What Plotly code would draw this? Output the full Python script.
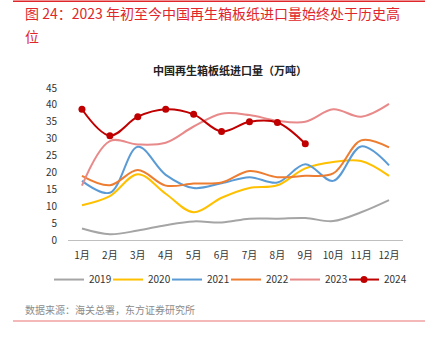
import plotly.graph_objects as go

months = ["1月", "2月", "3月", "4月", "5月", "6月", "7月", "8月", "9月", "10月", "11月", "12月"]

y2019 = [3.4, 1.7, 2.8, 4.4, 5.5, 5.2, 6.3, 6.3, 6.5, 5.6, 8.2, 11.8]
y2020 = [10.3, 13.0, 19.5, 13.7, 8.2, 12.5, 15.4, 16.2, 21.2, 23.1, 23.4, 19.0]
y2021 = [17.5, 14.0, 27.6, 19.3, 15.4, 16.8, 18.6, 17.0, 22.4, 17.5, 27.7, 22.1]
y2022 = [19.0, 16.2, 20.7, 16.1, 16.7, 17.0, 20.4, 18.6, 19.0, 19.7, 29.5, 27.4]
y2023 = [16.1, 29.3, 28.3, 28.8, 33.6, 37.4, 37.0, 35.3, 35.0, 38.7, 36.5, 40.3]
y2024 = [38.7, 30.9, 36.5, 38.7, 37.2, 32.1, 35.0, 34.8, 28.5]

series = [
    ("2019", y2019, "#A5A5A5"),
    ("2020", y2020, "#FFC000"),
    ("2021", y2021, "#5B9BD5"),
    ("2022", y2022, "#ED7D31"),
    ("2023", y2023, "#E8898A"),
    ("2024", y2024, "#C00000"),
]

FONT = "Noto Sans CJK SC"
W, H = 434, 344
PL, PR, PT, PB = 68, 403, 87.7, 240.3  # plot-area pixel box


def px(x):
    return (x - PL) / (PR - PL)


def py(y):
    return (PB - y) / (PB - PT)


# one single-entry legend per year, laid out in a row under the axis
LEGEND_TEXT_X = [89, 148, 207, 266, 325, 384]
LEGEND_Y = 280

fig = go.Figure()
legend_layout = {}
for i, (name, vals, color) in enumerate(series):
    key = "legend" if i == 0 else f"legend{i + 1}"
    is_current = name == "2024"
    fig.add_trace(go.Scatter(
        x=months[:len(vals)], y=vals, name=name,
        mode="lines+markers" if is_current else "lines",
        line=dict(color=color, width=2, shape="spline", smoothing=1.0),
        marker=dict(color=color, size=7),
        legend=key,
    ))
    legend_layout[key] = dict(
        x=px(LEGEND_TEXT_X[i] - 40), xanchor="left",
        y=py(LEGEND_Y), yanchor="middle",
        font=dict(size=10, color="#333333", family=FONT), itemwidth=30,
        bgcolor="rgba(0,0,0,0)", borderwidth=0,
    )

fig.update_layout(
    width=W, height=H,
    margin=dict(l=PL, r=W - PR, t=PT, b=H - PB, autoexpand=False),
    paper_bgcolor="white", plot_bgcolor="white",
    font=dict(family=FONT, size=10, color="#333333"),
    showlegend=True,
    xaxis=dict(
        type="category", categoryorder="array", categoryarray=months,
        range=[-0.5, 11.5], showgrid=False, showline=True, linecolor="#BFBFBF",
        linewidth=1, ticks="", ticklabelstandoff=6, tickfont=dict(size=10, color="#333333"),
        zeroline=False,
    ),
    yaxis=dict(
        range=[0, 45], dtick=5, showgrid=False, showline=False, zeroline=False,
        ticks="", ticklabelstandoff=10, tickfont=dict(size=10, color="#333333"),
    ),
    **legend_layout,
)

annotations = [
    dict(text="图 24：2023 年初至今中国再生箱板纸进口量始终处于历史高", x=px(23), y=py(12),
         xanchor="left", yanchor="middle", font=dict(size=14, color="#E0262B", family=FONT)),
    dict(text="位", x=px(23), y=py(35),
         xanchor="left", yanchor="middle", font=dict(size=14, color="#E0262B", family=FONT)),
    dict(text="<b>中国再生箱板纸进口量（万吨）</b>", x=px(230), y=py(70),
         xanchor="center", yanchor="middle", font=dict(size=11, color="#222222", family=FONT)),
    dict(text="数据来源：海关总署，东方证券研究所", x=px(23), y=py(310),
         xanchor="left", yanchor="middle", font=dict(size=10, color="#8C8C8C", family=FONT)),
]
for a in annotations:
    a.update(xref="paper", yref="paper", showarrow=False)
fig.update_layout(annotations=annotations)

fig.update_layout(shapes=[
    dict(type="line", xref="paper", yref="paper", x0=px(13), x1=px(425), y0=py(0.5), y1=py(0.5),
         line=dict(color="#E0262B", width=1.5)),
    dict(type="line", xref="paper", yref="paper", x0=px(13), x1=px(425), y0=py(321.5), y1=py(321.5),
         line=dict(color="#F0A0A0", width=1.5)),
])

fig.write_html("out.html")
